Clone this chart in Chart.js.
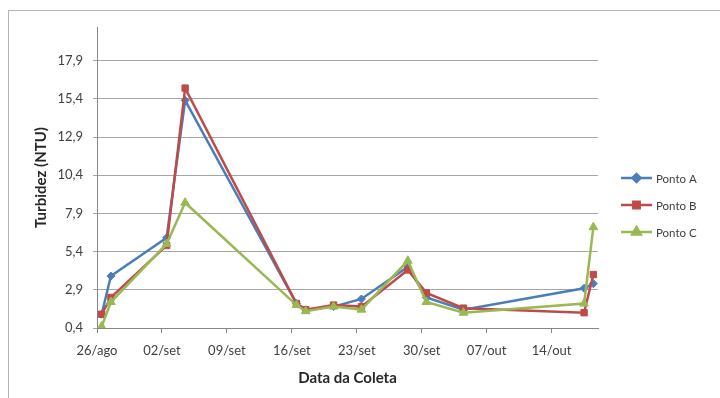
<!DOCTYPE html>
<html lang="pt-BR">
<head>
<meta charset="UTF-8" />
<title>Turbidez</title>
<script src="https://cdn.jsdelivr.net/npm/chart.js@4/dist/chart.umd.min.js"></script>
<style>
  html, body { margin: 0; padding: 0; background: #fff; }
  #caixa { width: 720px; height: 398px; position: relative; }
</style>
</head>
<body>
<div id="caixa"><canvas id="grafico"></canvas></div>
<script>
// dias contados a partir de 26/ago
const diasColeta = [0, 1, 7, 9, 21, 22, 25, 28, 33, 35, 39, 52, 53];
const pontoA = [1.3, 3.8, 6.3, 15.3, 2.0, 1.6, 1.8, 2.3, 4.4, 2.4, 1.6, 3.0, 3.3];
const pontoB = [1.3, 2.4, 5.8, 16.1, 2.0, 1.6, 1.9, 1.8, 4.2, 2.7, 1.7, 1.4, 3.9];
const pontoC = [0.5, 2.1, 5.9, 8.6, 1.9, 1.5, 1.8, 1.6, 4.8, 2.1, 1.4, 2.0, 7.0];

const diasRotulos = [0, 7, 14, 21, 28, 35, 42, 49];
const rotulosX = ['26/ago', '02/set', '09/set', '16/set', '23/set', '30/set', '07/out', '14/out'];
const ticksY = [0.4, 2.9, 5.4, 7.9, 10.4, 12.9, 15.4, 17.9];

// o Excel centraliza cada data no meio do intervalo do dia
const deslocamento = 0.5;

function pares(valores) {
  return valores.map((v, i) => ({ x: diasColeta[i] + deslocamento, y: v }));
}

const series = [
  { label: 'Ponto A', data: pontoA, cor: '#4a7ebb', marca: 'rectRot', raio: 4 },
  { label: 'Ponto B', data: pontoB, cor: '#be4b48', marca: 'rect', raio: 4.5 },
  { label: 'Ponto C', data: pontoC, cor: '#98b954', marca: 'triangle', raio: 5 }
];

const fonte = 'Lato, "Open Sans", sans-serif';

// moldura cinza e legenda desenhadas à mão
const moldura = {
  id: 'moldura',
  beforeDraw(chart) {
    const c = chart.ctx;
    c.save();
    c.fillStyle = '#fff';
    c.fillRect(0, 0, chart.width, chart.height);
    c.strokeStyle = '#b4b4b4';
    c.lineWidth = 1;
    c.strokeRect(8.5, 10.5, 730, 400);
    c.restore();
  },
  afterDraw(chart) {
    const c = chart.ctx;
    c.save();
    series.forEach((s, i) => {
      const y = 178 + i * 27;
      c.strokeStyle = s.cor;
      c.lineWidth = 2.5;
      c.beginPath();
      c.moveTo(621, y);
      c.lineTo(652, y);
      c.stroke();
      Chart.helpers.drawPoint(c, { pointStyle: s.marca, radius: s.raio, borderWidth: 1 }, 636.5, y);
      c.fillStyle = s.cor;
      c.fill();
      c.fillStyle = '#404040';
      c.font = '11.5px ' + fonte;
      c.textBaseline = 'middle';
      c.fillText(s.label, 656, y + 1);
    });
    c.restore();
  }
};

new Chart(document.getElementById('grafico'), {
  type: 'line',
  data: {
    datasets: series.map((s, i) => ({
      label: s.label,
      data: pares(s.data),
      borderColor: s.cor,
      backgroundColor: s.cor,
      borderWidth: 2.5,
      pointStyle: s.marca,
      pointRadius: s.raio,
      pointBorderWidth: 1,
      tension: 0,
      order: 2 - i
    }))
  },
  options: {
    responsive: true,
    maintainAspectRatio: false,
    animation: false,
    layout: { padding: { left: 28, right: 122, top: 27, bottom: 10 } },
    plugins: { legend: { display: false }, tooltip: { enabled: false } },
    scales: {
      x: {
        type: 'linear',
        min: 0,
        max: 54,
        afterBuildTicks: s => { s.ticks = diasRotulos.map(v => ({ value: v })); },
        afterFit: s => { s.height = 60; },
        ticks: {
          autoSkip: false,
          maxRotation: 0,
          padding: 10,
          color: '#404040',
          font: { family: fonte, size: 13 },
          callback: v => rotulosX[diasRotulos.indexOf(v)]
        },
        grid: { drawOnChartArea: false, drawTicks: true, tickLength: 5, color: '#868686' },
        border: { display: true, color: '#868686' },
        title: {
          display: true,
          text: 'Data da Coleta',
          color: '#262626',
          padding: { top: 0, bottom: 1 },
          font: { family: fonte, size: 15, weight: 'bold' }
        }
      },
      y: {
        min: 0.4,
        max: 20.1,
        afterBuildTicks: s => { s.ticks = ticksY.map(v => ({ value: v })); },
        afterFit: s => { s.width = 69; },
        ticks: {
          padding: 10,
          color: '#404040',
          font: { family: fonte, size: 13 },
          callback: v => v.toFixed(1).replace('.', ',')
        },
        grid: { color: '#a6a6a6', tickLength: 4 },
        border: { display: true, color: '#868686' },
        title: {
          display: true,
          text: 'Turbidez (NTU)',
          color: '#262626',
          padding: { top: 4, bottom: 0 },
          font: { family: fonte, size: 15, weight: 'bold' }
        }
      }
    }
  },
  plugins: [moldura]
});
</script>
</body>
</html>
